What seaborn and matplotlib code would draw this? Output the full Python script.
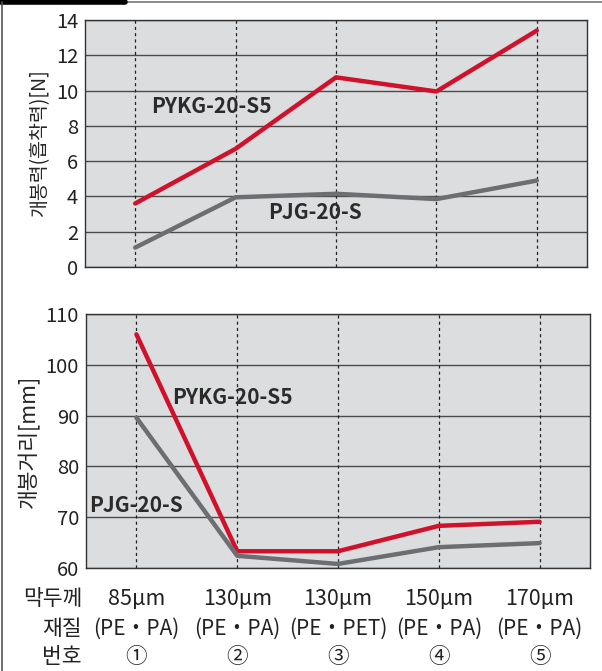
import matplotlib
matplotlib.use('Agg')
import matplotlib.pyplot as plt
import seaborn as sns
import pandas as pd

# 데이터
positions = [0, 1, 2, 3, 4]
thickness = ['85µm', '130µm', '130µm', '150µm', '170µm']
material = ['(PE・PA)', '(PE・PA)', '(PE・PET)', '(PE・PA)', '(PE・PA)']
number = ['①', '②', '③', '④', '⑤']

force_pykg = [3.6, 6.7, 10.75, 9.95, 13.4]
force_pjg = [1.1, 3.95, 4.15, 3.85, 4.9]
dist_pykg = [106.0, 63.3, 63.3, 68.3, 69.1]
dist_pjg = [89.6, 62.4, 60.8, 64.1, 64.9]

RED = '#d0112b'
GRAY = '#6d6e71'
BG = '#dcdddf'


def main():
    sns.set_theme(style='white')
    plt.rcParams['font.family'] = ['Noto Sans CJK KR', 'DejaVu Sans']

    fig = plt.figure(figsize=(6.02, 6.71), dpi=100)
    W, H = 602, 671
    ax1 = fig.add_axes([85 / W, 1 - 267 / H, 502 / W, 247 / H])
    ax2 = fig.add_axes([86 / W, 1 - 568 / H, 504 / W, 254 / H])

    df1 = pd.DataFrame({'x': positions * 2,
                        'y': force_pykg + force_pjg,
                        's': ['PYKG-20-S5'] * 5 + ['PJG-20-S'] * 5})
    df2 = pd.DataFrame({'x': positions * 2,
                        'y': dist_pykg + dist_pjg,
                        's': ['PYKG-20-S5'] * 5 + ['PJG-20-S'] * 5})
    pal = {'PYKG-20-S5': RED, 'PJG-20-S': GRAY}

    for ax, df, ticks, lim in [(ax1, df1, range(0, 15, 2), (0, 14)),
                               (ax2, df2, range(60, 111, 10), (60, 110))]:
        ax.set_facecolor(BG)
        for t in ticks:
            ax.axhline(t, color='#4a4a4a', lw=1.0, zorder=1)
        for p in positions:
            ax.axvline(p, color='#222222', lw=0.9, ls=(0, (2.5, 2.5)), zorder=1)
        sns.lineplot(data=df, x='x', y='y', hue='s', palette=pal, lw=3.2,
                     legend=False, ax=ax, zorder=3)
        ax.set_xlim(-0.5, 4.5)
        ax.set_ylim(*lim)
        ax.set_yticks(list(ticks))
        ax.tick_params(axis='y', labelsize=14.5, length=0, pad=5, colors='#222222')
        ax.set_xlabel('')
        for sp in ax.spines.values():
            sp.set_color('#333333')
            sp.set_linewidth(1.0)

    ax1.set_xticks([])
    ax1.set_ylabel('개봉력(흡착력)[N]', fontsize=14, labelpad=4)
    ax1.text(0.16, 8.75, 'PYKG-20-S5', fontsize=15, fontweight='bold', color='#2b2b2b')
    ax1.text(1.32, 2.7, 'PJG-20-S', fontsize=15, fontweight='bold', color='#2b2b2b')

    ax2.set_xticks([])
    ax2.set_ylabel('개봉거리[mm]', fontsize=15.5, labelpad=4)
    ax2.text(0.35, 92.3, 'PYKG-20-S5', fontsize=15, fontweight='bold', color='#2b2b2b')
    ax2.text(-0.47, 71.0, 'PJG-20-S', fontsize=15, fontweight='bold', color='#2b2b2b')

    # 아래 표 라벨
    rows = [(599, thickness, '막두께'), (629, material, '재질'), (657, number, '번호')]
    for ypix, labels, head in rows:
        yf = 1 - ypix / H
        fig.text(82 / W, yf, head, ha='right', va='center', fontsize=15.5, color='#222222')
        for p, lab in zip(positions, labels):
            xf = (86 + (p + 0.5) * 100.8) / W
            fs = 15 if head == '재질' else 15.5
            fig.text(xf, yf, lab, ha='center', va='center', fontsize=fs, color='#222222')

    # 상단 테두리
    fig.add_artist(plt.Line2D([0, 1], [1 - 2 / H, 1 - 2 / H], color='#777777', lw=1.2))
    fig.add_artist(plt.Line2D([0, 125 / W], [1 - 2 / H, 1 - 2 / H], color='black', lw=4))
    fig.add_artist(plt.Line2D([2 / W, 2 / W], [0, 1 - 2 / H], color='#555555', lw=1.2))

    fig.savefig('out.png', dpi=100)


if __name__ == '__main__':
    main()
